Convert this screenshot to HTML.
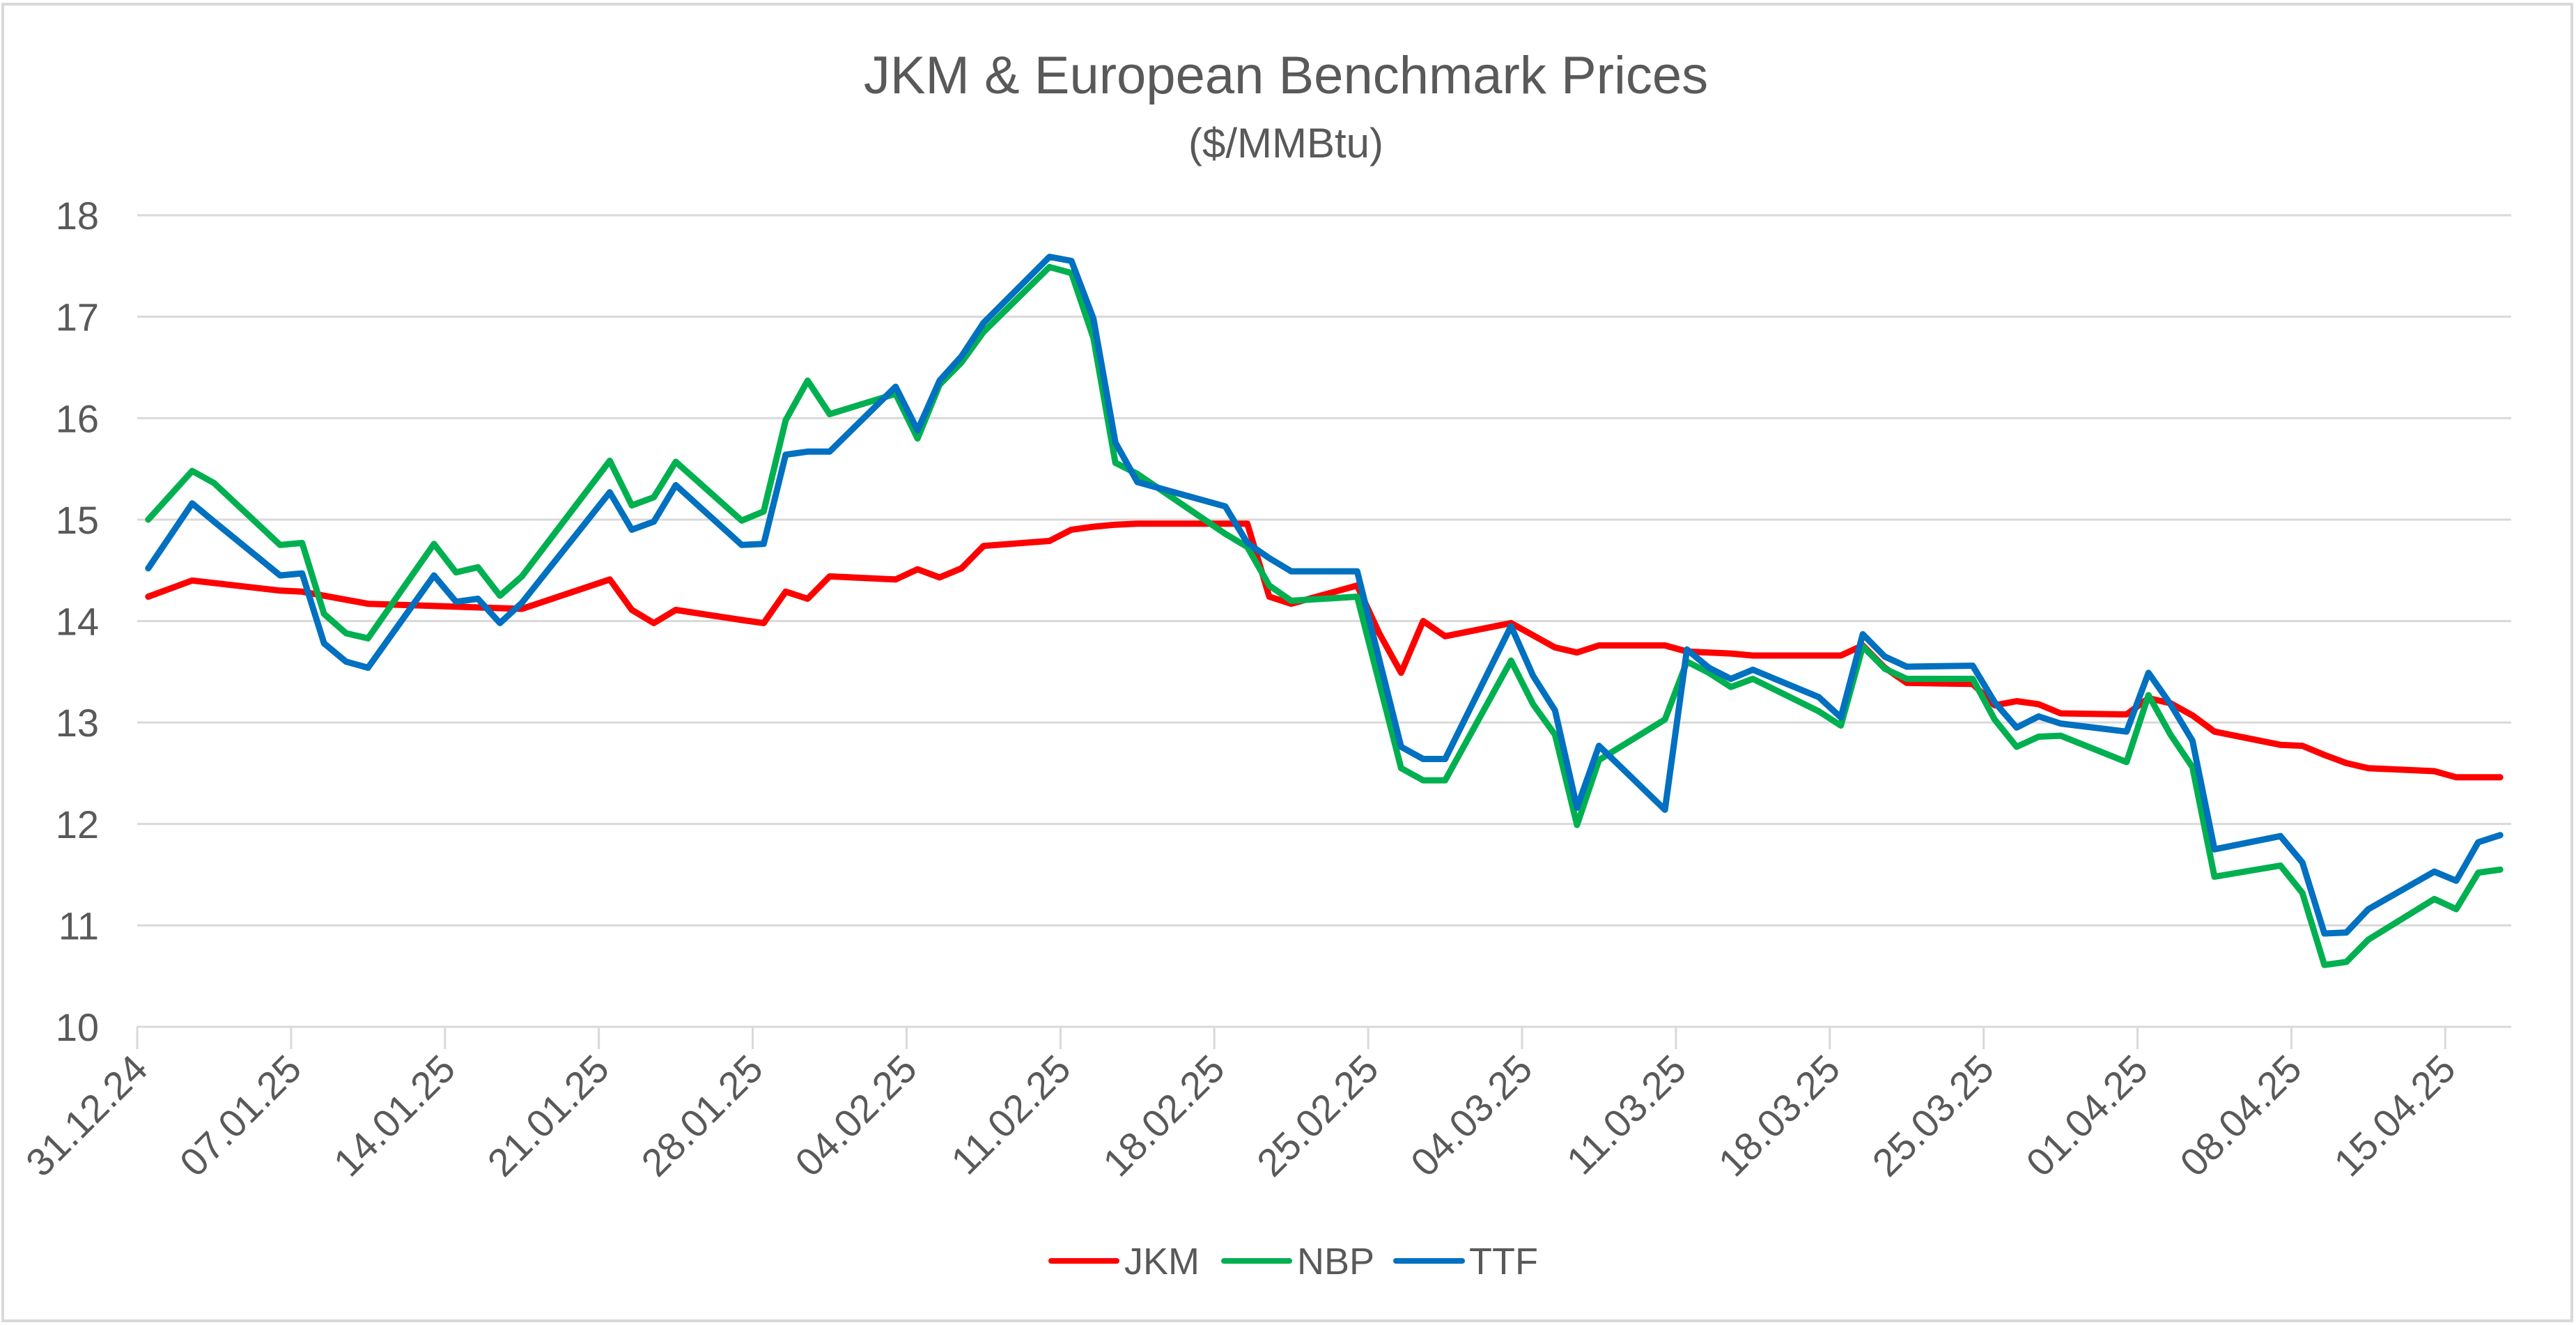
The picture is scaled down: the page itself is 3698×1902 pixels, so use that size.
<!DOCTYPE html>
<html><head><meta charset="utf-8"><style>
html,body{margin:0;padding:0;background:#fff;}
svg{display:block;font-family:"Liberation Sans",sans-serif;}
</style></head><body>
<svg id="chart" width="3698" height="1902" viewBox="0 0 3698 1902" xmlns="http://www.w3.org/2000/svg">
<rect x="4" y="6" width="3688" height="1890" fill="#fff" stroke="#d9d9d9" stroke-width="4"/>
<text x="1846" y="134" text-anchor="middle" font-size="76" fill="#595959">JKM &amp; European Benchmark Prices</text>
<text x="1846" y="226" text-anchor="middle" font-size="60" fill="#595959">($/MMBtu)</text>
<g id="grid"></g><g id="xaxis"></g><g id="series"></g>
<g>
<line x1="1509" y1="1810" x2="1603" y2="1810" stroke="#ff0000" stroke-width="8" stroke-linecap="round"/>
<text x="1614" y="1829" font-size="54" fill="#595959">JKM</text>
<line x1="1757" y1="1810" x2="1851" y2="1810" stroke="#00b050" stroke-width="8" stroke-linecap="round"/>
<text x="1862" y="1829" font-size="54" fill="#595959">NBP</text>
<line x1="2004" y1="1810" x2="2099" y2="1810" stroke="#0070c0" stroke-width="8" stroke-linecap="round"/>
<text x="2109" y="1829" font-size="54" fill="#595959">TTF</text>
</g>
</svg>
<script>
const yTicks = [10, 11, 12, 13, 14, 15, 16, 17, 18];
const xTickLabels = ["31.12.24","07.01.25","14.01.25","21.01.25","28.01.25","04.02.25","11.02.25","18.02.25","25.02.25","04.03.25","11.03.25","18.03.25","25.03.25","01.04.25","08.04.25","15.04.25"];
const jkmDays = [0,2,6,7,10,17,21,22,23,24,27,28,29,30,31,34,35,36,37,38,41,42,43,44,45,50,51,52,55,56,57,58,59,62,63,64,65,66,69,70,72,73,77,78,79,80,83,84,85,86,87,90,91,92,93,94,97,98,99,100,101,104,105,106,107];
const jkmValues = [14.24,14.4,14.3,14.29,14.17,14.12,14.41,14.11,13.98,14.11,14.01,13.98,14.29,14.22,14.44,14.41,14.51,14.43,14.52,14.74,14.79,14.9,14.93,14.95,14.96,14.96,14.24,14.17,14.35,13.88,13.49,14.0,13.85,13.98,13.86,13.74,13.69,13.76,13.76,13.7,13.68,13.66,13.66,13.76,13.54,13.39,13.38,13.17,13.21,13.18,13.09,13.08,13.24,13.19,13.07,12.91,12.78,12.77,12.68,12.6,12.55,12.52,12.46,12.46,12.46];
const euDays = [0,2,3,6,7,8,9,10,13,14,15,16,17,21,22,23,24,27,28,29,30,31,34,35,36,37,38,41,42,43,44,45,49,50,51,52,55,57,58,59,62,63,64,65,66,69,70,71,72,73,76,77,78,79,80,83,84,85,86,87,90,91,92,93,94,97,98,99,100,101,104,105,106,107];
const nbpValues = [15.0,15.48,15.36,14.75,14.77,14.07,13.88,13.83,14.76,14.48,14.53,14.25,14.44,15.58,15.14,15.22,15.57,14.99,15.08,15.98,16.37,16.04,16.24,15.8,16.33,16.55,16.85,17.49,17.43,16.79,15.56,15.45,14.86,14.73,14.35,14.2,14.24,12.55,12.43,12.43,13.61,13.18,12.88,11.99,12.63,13.03,13.6,13.49,13.35,13.43,13.11,12.97,13.75,13.53,13.43,13.43,13.03,12.76,12.86,12.87,12.61,13.27,12.88,12.56,11.48,11.59,11.32,10.61,10.64,10.86,11.26,11.16,11.52,11.55];
const ttfValues = [14.52,15.16,14.98,14.45,14.47,13.78,13.6,13.54,14.45,14.19,14.22,13.98,14.18,15.27,14.9,14.98,15.34,14.75,14.76,15.64,15.67,15.67,16.31,15.88,16.37,16.61,16.94,17.59,17.55,16.98,15.76,15.37,15.13,14.77,14.62,14.49,14.49,12.76,12.64,12.64,13.95,13.46,13.12,12.16,12.77,12.14,13.72,13.54,13.43,13.52,13.25,13.05,13.87,13.65,13.55,13.56,13.2,12.95,13.06,12.99,12.91,13.49,13.18,12.82,11.75,11.88,11.62,10.92,10.93,11.16,11.53,11.44,11.82,11.89];

const NS = "http://www.w3.org/2000/svg";
const L = 197, R = 3605, T = 309, B = 1474, NDAYS = 108, YMIN = 10, YMAX = 18;
function xScale(d) { return L + (d + 0.5) * (R - L) / NDAYS; }
function xTick(d) { return L + d * (R - L) / NDAYS; }
function yScale(v) { return B - (v - YMIN) * (B - T) / (YMAX - YMIN); }
function mk(tag, attrs, parent) { const e = document.createElementNS(NS, tag); for (const k in attrs) e.setAttribute(k, attrs[k]); parent.appendChild(e); return e; }

const grid = document.getElementById('grid');
yTicks.forEach(v => {
  const y = yScale(v);
  const g = mk('line', {x1: L, x2: R, y1: y, y2: y, stroke: '#d9d9d9', 'stroke-width': 3}, grid);
  
  
  const t = mk('text', {x: 142, y: y + 20, 'text-anchor': 'end', 'font-size': 56, fill: '#595959'}, grid);
  t.textContent = v;
  
  
});
const xa = document.getElementById('xaxis');
xTickLabels.forEach((lab, i) => {
  const x = xTick(i * 7);
  const tk = mk('line', {x1: x, x2: x, y1: B, y2: B + 32, stroke: '#d9d9d9', 'stroke-width': 3}, xa);
  
  
  const t = mk('text', {x: x + 18, y: B + 64, 'text-anchor': 'end', 'font-size': 56, fill: '#595959', transform: 'rotate(-45 ' + (x + 18) + ' ' + (B + 64) + ')'}, xa);
  t.textContent = lab;
  
  
});
const ser = document.getElementById('series');
function drawLine(days, vals, color, name) {
  const pts = days.map((d, i) => xScale(d).toFixed(1) + ',' + yScale(vals[i]).toFixed(1)).join(' ');
  const p = mk('polyline', {points: pts, fill: 'none', stroke: color, 'stroke-width': 9, 'stroke-linejoin': 'round', 'stroke-linecap': 'round'}, ser);
  
  
}
drawLine(jkmDays, jkmValues, '#ff0000', 'jkm-line');
drawLine(euDays, nbpValues, '#00b050', 'nbp-line');
drawLine(euDays, ttfValues, '#0070c0', 'ttf-line');
</script>
</body></html>
